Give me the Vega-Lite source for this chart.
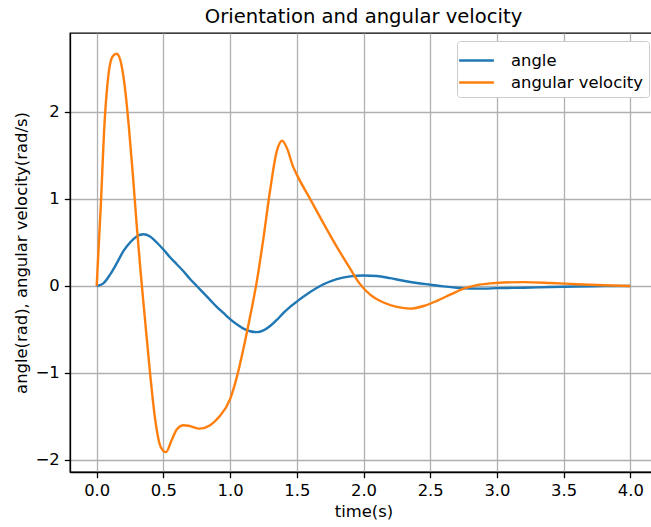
{
  "$schema": "https://vega.github.io/schema/vega-lite/v6.json",
  "autosize": {"type": "none"},
  "padding": {"left": 70, "top": 33, "right": 0, "bottom": 55},
  "width": 587,
  "height": 439,
  "background": "white",
  "title": {"text": "Orientation and angular velocity", "font": "DejaVu Sans", "fontSize": 19.6, "fontWeight": "normal", "color": "black", "anchor": "middle", "offset": 5},
  "config": {
    "view": {"stroke": "black", "strokeWidth": 1.3},
    "axis": {"labelFont": "DejaVu Sans", "titleFont": "DejaVu Sans", "labelFontSize": 16.4, "titleFontSize": 16.4, "titleFontWeight": "normal", "labelColor": "black", "titleColor": "black", "domainColor": "black", "domainWidth": 1.3, "tickColor": "black", "tickSize": 5.7, "tickWidth": 1.3, "gridColor": "#b0b0b0", "gridWidth": 1.3, "labelPadding": 5},
    "legend": {"labelFont": "DejaVu Sans", "labelFontSize": 16.4, "labelColor": "black"}
  },
  "data": {"values": [
    {"t": 0.00, "v": 0, "s": "angle"},
    {"t": 0.05, "v": 0.03, "s": "angle"},
    {"t": 0.10, "v": 0.13, "s": "angle"},
    {"t": 0.15, "v": 0.26, "s": "angle"},
    {"t": 0.20, "v": 0.40, "s": "angle"},
    {"t": 0.25, "v": 0.50, "s": "angle"},
    {"t": 0.30, "v": 0.57, "s": "angle"},
    {"t": 0.35, "v": 0.595, "s": "angle"},
    {"t": 0.40, "v": 0.57, "s": "angle"},
    {"t": 0.45, "v": 0.50, "s": "angle"},
    {"t": 0.50, "v": 0.42, "s": "angle"},
    {"t": 0.55, "v": 0.33, "s": "angle"},
    {"t": 0.60, "v": 0.25, "s": "angle"},
    {"t": 0.65, "v": 0.17, "s": "angle"},
    {"t": 0.70, "v": 0.08, "s": "angle"},
    {"t": 0.75, "v": 0.0, "s": "angle"},
    {"t": 0.80, "v": -0.08, "s": "angle"},
    {"t": 0.85, "v": -0.16, "s": "angle"},
    {"t": 0.90, "v": -0.24, "s": "angle"},
    {"t": 0.95, "v": -0.31, "s": "angle"},
    {"t": 1.00, "v": -0.38, "s": "angle"},
    {"t": 1.05, "v": -0.44, "s": "angle"},
    {"t": 1.10, "v": -0.49, "s": "angle"},
    {"t": 1.15, "v": -0.52, "s": "angle"},
    {"t": 1.20, "v": -0.53, "s": "angle"},
    {"t": 1.25, "v": -0.51, "s": "angle"},
    {"t": 1.30, "v": -0.46, "s": "angle"},
    {"t": 1.35, "v": -0.39, "s": "angle"},
    {"t": 1.40, "v": -0.31, "s": "angle"},
    {"t": 1.45, "v": -0.24, "s": "angle"},
    {"t": 1.50, "v": -0.18, "s": "angle"},
    {"t": 1.60, "v": -0.07, "s": "angle"},
    {"t": 1.70, "v": 0.02, "s": "angle"},
    {"t": 1.80, "v": 0.08, "s": "angle"},
    {"t": 1.90, "v": 0.11, "s": "angle"},
    {"t": 2.00, "v": 0.12, "s": "angle"},
    {"t": 2.10, "v": 0.115, "s": "angle"},
    {"t": 2.20, "v": 0.09, "s": "angle"},
    {"t": 2.30, "v": 0.06, "s": "angle"},
    {"t": 2.40, "v": 0.035, "s": "angle"},
    {"t": 2.50, "v": 0.015, "s": "angle"},
    {"t": 2.60, "v": -0.005, "s": "angle"},
    {"t": 2.70, "v": -0.02, "s": "angle"},
    {"t": 2.80, "v": -0.028, "s": "angle"},
    {"t": 2.90, "v": -0.03, "s": "angle"},
    {"t": 3.00, "v": -0.025, "s": "angle"},
    {"t": 3.20, "v": -0.02, "s": "angle"},
    {"t": 3.40, "v": -0.012, "s": "angle"},
    {"t": 3.60, "v": -0.006, "s": "angle"},
    {"t": 3.80, "v": -0.002, "s": "angle"},
    {"t": 4.00, "v": 0, "s": "angle"},
    {"t": 0.00, "v": 0, "s": "angular velocity"},
    {"t": 0.03, "v": 0.9, "s": "angular velocity"},
    {"t": 0.06, "v": 1.9, "s": "angular velocity"},
    {"t": 0.09, "v": 2.45, "s": "angular velocity"},
    {"t": 0.12, "v": 2.64, "s": "angular velocity"},
    {"t": 0.15, "v": 2.67, "s": "angular velocity"},
    {"t": 0.18, "v": 2.58, "s": "angular velocity"},
    {"t": 0.21, "v": 2.30, "s": "angular velocity"},
    {"t": 0.24, "v": 1.85, "s": "angular velocity"},
    {"t": 0.27, "v": 1.30, "s": "angular velocity"},
    {"t": 0.30, "v": 0.70, "s": "angular velocity"},
    {"t": 0.33, "v": 0.15, "s": "angular velocity"},
    {"t": 0.36, "v": -0.35, "s": "angular velocity"},
    {"t": 0.40, "v": -1.0, "s": "angular velocity"},
    {"t": 0.44, "v": -1.55, "s": "angular velocity"},
    {"t": 0.48, "v": -1.85, "s": "angular velocity"},
    {"t": 0.52, "v": -1.91, "s": "angular velocity"},
    {"t": 0.56, "v": -1.78, "s": "angular velocity"},
    {"t": 0.60, "v": -1.65, "s": "angular velocity"},
    {"t": 0.65, "v": -1.60, "s": "angular velocity"},
    {"t": 0.70, "v": -1.61, "s": "angular velocity"},
    {"t": 0.77, "v": -1.64, "s": "angular velocity"},
    {"t": 0.85, "v": -1.60, "s": "angular velocity"},
    {"t": 0.92, "v": -1.50, "s": "angular velocity"},
    {"t": 1.00, "v": -1.30, "s": "angular velocity"},
    {"t": 1.05, "v": -1.05, "s": "angular velocity"},
    {"t": 1.10, "v": -0.72, "s": "angular velocity"},
    {"t": 1.15, "v": -0.35, "s": "angular velocity"},
    {"t": 1.20, "v": 0.05, "s": "angular velocity"},
    {"t": 1.25, "v": 0.55, "s": "angular velocity"},
    {"t": 1.30, "v": 1.10, "s": "angular velocity"},
    {"t": 1.35, "v": 1.55, "s": "angular velocity"},
    {"t": 1.39, "v": 1.67, "s": "angular velocity"},
    {"t": 1.43, "v": 1.57, "s": "angular velocity"},
    {"t": 1.47, "v": 1.38, "s": "angular velocity"},
    {"t": 1.50, "v": 1.28, "s": "angular velocity"},
    {"t": 1.60, "v": 1.0, "s": "angular velocity"},
    {"t": 1.70, "v": 0.72, "s": "angular velocity"},
    {"t": 1.80, "v": 0.45, "s": "angular velocity"},
    {"t": 1.90, "v": 0.20, "s": "angular velocity"},
    {"t": 1.97, "v": 0.03, "s": "angular velocity"},
    {"t": 2.05, "v": -0.10, "s": "angular velocity"},
    {"t": 2.15, "v": -0.19, "s": "angular velocity"},
    {"t": 2.25, "v": -0.24, "s": "angular velocity"},
    {"t": 2.35, "v": -0.26, "s": "angular velocity"},
    {"t": 2.45, "v": -0.23, "s": "angular velocity"},
    {"t": 2.55, "v": -0.17, "s": "angular velocity"},
    {"t": 2.65, "v": -0.10, "s": "angular velocity"},
    {"t": 2.75, "v": -0.03, "s": "angular velocity"},
    {"t": 2.85, "v": 0.01, "s": "angular velocity"},
    {"t": 2.95, "v": 0.03, "s": "angular velocity"},
    {"t": 3.05, "v": 0.04, "s": "angular velocity"},
    {"t": 3.20, "v": 0.045, "s": "angular velocity"},
    {"t": 3.40, "v": 0.035, "s": "angular velocity"},
    {"t": 3.60, "v": 0.02, "s": "angular velocity"},
    {"t": 3.80, "v": 0.008, "s": "angular velocity"},
    {"t": 4.00, "v": 0, "s": "angular velocity"}
  ]},
  "mark": {"type": "line", "strokeWidth": 2.4, "interpolate": "monotone", "clip": true},
  "encoding": {
    "x": {"field": "t", "type": "quantitative", "scale": {"domain": [-0.2, 4.2], "nice": false, "zero": false},
      "axis": {"title": "time(s)", "values": [0, 0.5, 1, 1.5, 2, 2.5, 3, 3.5, 4], "format": ".1f", "titlePadding": 4}},
    "y": {"field": "v", "type": "quantitative", "scale": {"domain": [-2.138, 2.908], "nice": false, "zero": false},
      "axis": {"title": "angle(rad), angular velocity(rad/s)", "values": [-2, -1, 0, 1, 2], "labelExpr": "replace(datum.label, '-', '−')", "titlePadding": 6}},
    "color": {"field": "s", "type": "nominal", "scale": {"domain": ["angle", "angular velocity"], "range": ["#1f77b4", "#ff7f0e"]},
      "legend": {"title": null, "orient": "top-right", "offset": 8, "symbolType": "M-1.45,0H1.45", "symbolSize": 576, "symbolStrokeWidth": 2.4, "fillColor": "white", "strokeColor": "#cccccc", "cornerRadius": 3, "padding": 6, "rowPadding": 0, "labelOffset": 21}}
  }
}
